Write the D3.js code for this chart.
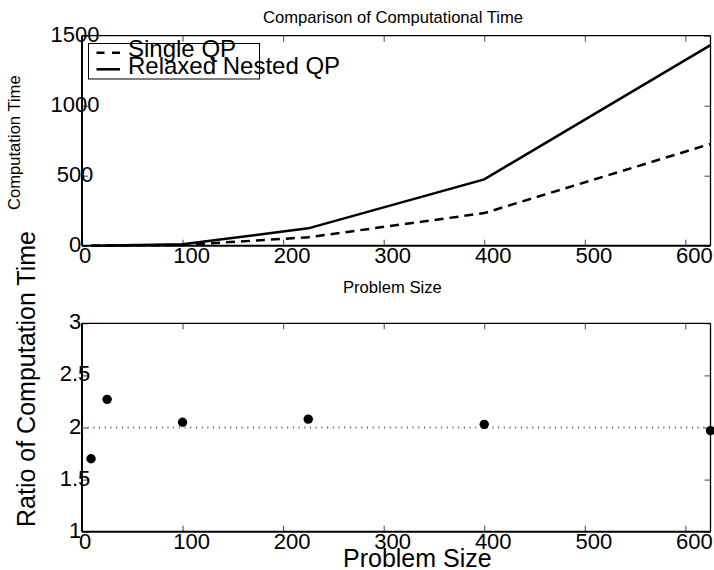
<!DOCTYPE html>
<html><head><meta charset="utf-8">
<script src="https://cdn.jsdelivr.net/npm/d3@7/dist/d3.min.js"></script>
<style>
html,body{margin:0;padding:0;background:#fff;}
svg{display:block;font-family:"Liberation Sans",Arial,sans-serif;}
</style></head>
<body>
<svg id="chart" width="714" height="570"></svg>
<script>
const problemSize = [9, 25, 100, 225, 400, 625];
const singleQP = [0.3, 0.9, 5, 60, 233, 727];
const relaxedNestedQP = [0.5, 2, 10, 124, 474, 1433];
const ratio = [1.70, 2.27, 2.05, 2.08, 2.03, 1.97];
const xTicks = [0, 100, 200, 300, 400, 500, 600];
const yTicksTop = [0, 500, 1000, 1500];
const yTicksBottom = [1, 1.5, 2, 2.5, 3];
const seriesNames = ["Single QP", "Relaxed Nested QP"];

const svg = d3.select("#chart");
const L = 82, R = 710.5;

function panel(yDomain, top, bottom, axisW) {
  const x = d3.scaleLinear().domain([0, 625]).range([L, R]);
  const y = d3.scaleLinear().domain(yDomain).range([bottom, top]);
  const g = svg.append("g");
  return {x, y, g, top, bottom, axisW};
}

function drawFrame(p, yTicks, fmt) {
  const {x, y, g, top, bottom, axisW} = p;
  const tickStyle = sel => { sel.select(".domain").remove(); sel.selectAll(".tick line").attr("stroke", "#444").attr("stroke-width", 1); sel.selectAll(".tick text").remove(); };
  g.append("g").attr("transform", `translate(0,${bottom})`).call(d3.axisBottom(x).tickValues(xTicks).tickSize(-6)).call(tickStyle);
  g.append("g").attr("transform", `translate(0,${top})`).call(d3.axisTop(x).tickValues(xTicks).tickSize(-6)).call(tickStyle);
  g.append("g").attr("transform", `translate(${L},0)`).call(d3.axisLeft(y).tickValues(yTicks).tickSize(-6)).call(tickStyle);
  g.append("g").attr("transform", `translate(${R},0)`).call(d3.axisRight(y).tickValues(yTicks).tickSize(-6)).call(tickStyle);
  // box
  g.append("line").attr("x1", L).attr("x2", R).attr("y1", top).attr("y2", top).attr("stroke", "#000").attr("stroke-width", 1.3);
  g.append("line").attr("x1", R).attr("x2", R).attr("y1", top).attr("y2", bottom).attr("stroke", "#000").attr("stroke-width", 1.3);
  g.append("line").attr("x1", L).attr("x2", R).attr("y1", bottom).attr("y2", bottom).attr("stroke", "#000").attr("stroke-width", axisW);
  g.append("line").attr("x1", L).attr("x2", L).attr("y1", top).attr("y2", bottom).attr("stroke", "#000").attr("stroke-width", axisW);
  // tick labels
  g.selectAll(".xl").data(xTicks).enter().append("text")
    .attr("x", d => x(d) + 3 * String(d).length).attr("y", bottom + 17.5)
    .attr("text-anchor", "middle").attr("font-size", 22).text(d => d);
  g.selectAll(".yl").data(yTicks).enter().append("text")
    .attr("x", 75).attr("y", d => y(d) + 6)
    .attr("text-anchor", "middle").attr("font-size", 22).text(fmt);
}

// Top panel
const p1 = panel([0, 1500], 35.7, 245.7, 2);
drawFrame(p1, yTicksTop, d => d);
const line1 = d3.line().x((d, i) => p1.x(problemSize[i])).y(d => p1.y(d));
p1.g.append("path").datum(singleQP).attr("d", line1).attr("fill", "none").attr("stroke", "#000").attr("stroke-width", 2.5).attr("stroke-dasharray", "9,6");
p1.g.append("path").datum(relaxedNestedQP).attr("d", line1).attr("fill", "none").attr("stroke", "#000").attr("stroke-width", 2.5);

// legend
const lg = p1.g.append("g");
lg.append("rect").attr("x", 88.5).attr("y", 43.5).attr("width", 171).attr("height", 35.5).attr("fill", "#fff").attr("stroke", "#000").attr("stroke-width", 1);
lg.append("line").attr("x1", 96.5).attr("x2", 120).attr("y1", 52.7).attr("y2", 52.7).attr("stroke", "#000").attr("stroke-width", 2.5).attr("stroke-dasharray", "8,7.5");
lg.append("line").attr("x1", 96.5).attr("x2", 120).attr("y1", 69.3).attr("y2", 69.3).attr("stroke", "#000").attr("stroke-width", 2.5);
lg.append("text").attr("x", 128).attr("y", 57).attr("font-size", 24).text(seriesNames[0]);
lg.append("text").attr("x", 128).attr("y", 74).attr("font-size", 24).text(seriesNames[1]);

svg.append("text").attr("x", 263).attr("y", 23.3).attr("font-size", 16.6).text("Comparison of Computational Time");
svg.append("text").attr("x", 343).attr("y", 293).attr("font-size", 16.6).text("Problem Size");
svg.append("text").attr("transform", "translate(20,210) rotate(-90)").attr("font-size", 16.6).text("Computation Time");

// Bottom panel
const p2 = panel([1, 3], 323.3, 531.7, 2);
drawFrame(p2, yTicksBottom, d => d);
p2.g.append("line").attr("x1", L).attr("x2", R).attr("y1", p2.y(2)).attr("y2", p2.y(2))
  .attr("stroke", "#555").attr("stroke-width", 2).attr("stroke-dasharray", "1,4.7");
p2.g.selectAll(".dot").data(ratio).enter().append("circle")
  .attr("cx", (d, i) => p2.x(problemSize[i])).attr("cy", d => p2.y(d)).attr("r", 4.7).attr("fill", "#000");

svg.append("text").attr("x", 343).attr("y", 567).attr("font-size", 25).text("Problem Size");
svg.append("text").attr("transform", "translate(35,527) rotate(-90)").attr("font-size", 25).text("Ratio of Computation Time");
</script>
</body></html>
